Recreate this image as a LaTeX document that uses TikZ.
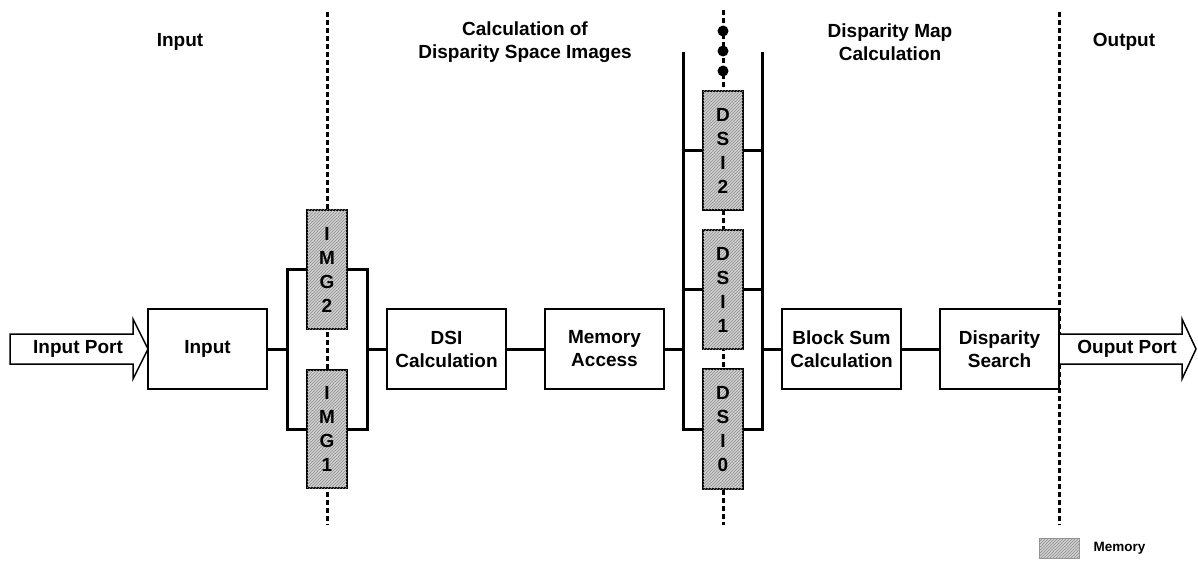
\documentclass[tikz,border=0pt]{standalone}
\usepackage{fontspec}
\setmainfont{Liberation Sans}
\usetikzlibrary{patterns}
\begin{document}
\begin{tikzpicture}[x=1pt,y=-1pt,
  every node/.style={font=\fontsize{19}{23}\selectfont\bfseries},
  blk/.style={draw, line width=2pt, minimum width=119pt, minimum height=80pt, align=center, inner sep=0pt, fill=white},
  mem/.style={draw, line width=2pt, minimum width=40pt, align=center, inner sep=0pt, fill=black!18,
    postaction={pattern=north east lines, pattern color=black!45},
    font=\fontsize{19}{24}\selectfont\bfseries},
  conn/.style={line width=3pt},
  sepline/.style={line width=3pt, dash pattern=on 5pt off 3pt},
  port/.style={draw, line width=1.5pt, fill=white, line join=miter},
  ttl/.style={align=center}]
\useasboundingbox (0,0) rectangle (1198,561);
\fill[white] (0,0) rectangle (1198,561);

% separator lines
\coordinate (s1t) at (327,12);  \coordinate (s1b) at (327,525);
\coordinate (s2t) at (723,10);  \coordinate (s2b) at (723,525);
\coordinate (s3t) at (1059,12); \coordinate (s3b) at (1059,525);
\draw[sepline] (s1t) -- (s1b);
\draw[sepline] (s2t) -- (s2b);
\draw[sepline] (s3t) -- (s3b);

% titles
\node[ttl] (t1) at (180,42) {Input};
\node[ttl] (t2) at (525,42) {Calculation of\\Disparity Space Images};
\node[ttl] (t3) at (890,42) {Disparity Map\\Calculation};
\node[ttl] (t4) at (1124,42) {Output};

% ports
\draw[port] (10,334) -- (133,334) -- (133,319) -- (148,349) -- (133,379) -- (133,364) -- (10,364) -- cycle;
\node (inport) at (78,349) {Input Port};
\draw[port] (1059,334) -- (1182,334) -- (1182,319) -- (1196,349) -- (1182,379) -- (1182,364) -- (1059,364);
\node (outport) at (1127,349) {Ouput Port};

% blocks
\node[blk] (input) at (207.5,349) {Input};
\node[blk] (dsic) at (446.5,349) {DSI\\Calculation};
\node[blk] (mema) at (604.5,349) {Memory\\Access};
\node[blk] (bsum) at (841.5,349) {Block Sum\\Calculation};
\node[blk] (dsearch) at (999.5,349) {Disparity\\Search};

% memories
\node[mem, minimum height=119pt] (img2) at (327,269.5) {I\\M\\G\\2};
\node[mem, minimum height=118pt] (img1) at (327,429) {I\\M\\G\\1};
\node[mem, minimum height=119pt] (dsi2) at (723,150.5) {D\\S\\I\\2};
\node[mem, minimum height=119pt] (dsi1) at (723,289.5) {D\\S\\I\\1};
\node[mem, minimum height=120pt] (dsi0) at (723,429) {D\\S\\I\\0};

% dots
\fill (723,31) circle[radius=5.5pt];
\fill (723,51) circle[radius=5.5pt];
\fill (723,71) circle[radius=5.5pt];

% connectors
\coordinate (lb) at (287,349);
\coordinate (rb) at (367,349);
\coordinate (lb2) at (683,349);
\coordinate (rb2) at (762,349);
\coordinate (lt) at (683,52);
\coordinate (rt) at (762,52);

\draw[conn] (input.east) -- (lb);
\draw[conn] (img2.west) -- (img2.west -| lb) -- (img1.west -| lb) -- (img1.west);
\draw[conn] (img2.east) -- (img2.east -| rb) -- (img1.east -| rb) -- (img1.east);
\draw[conn] (rb) -- (dsic.west);
\draw[conn] (dsic.east) -- (mema.west);
\draw[conn] (mema.east) -- (lb2);
\draw[conn] (lt) -- (dsi0.west -| lt) -- (dsi0.west);
\draw[conn] (dsi2.west -| lt) -- (dsi2.west);
\draw[conn] (dsi1.west -| lt) -- (dsi1.west);
\draw[conn] (rt) -- (dsi0.east -| rt) -- (dsi0.east);
\draw[conn] (dsi2.east -| rt) -- (dsi2.east);
\draw[conn] (dsi1.east -| rt) -- (dsi1.east);
\draw[conn] (rb2) -- (bsum.west);
\draw[conn] (bsum.east) -- (dsearch.west);

% legend
\node[mem, minimum height=20pt, line width=0.8pt, draw=black!40] (leg) at (1059,548) {};
\node[anchor=west, font=\fontsize{13.5}{16}\selectfont\bfseries] (legt) at (1090,548) {Memory};
\end{tikzpicture}
\end{document}
